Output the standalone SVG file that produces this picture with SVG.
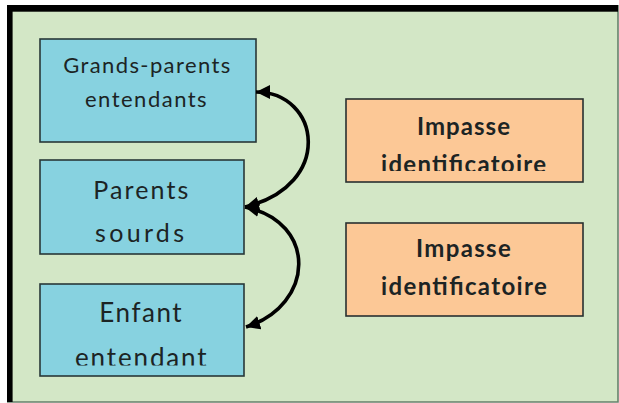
<svg xmlns="http://www.w3.org/2000/svg" width="619" height="403" viewBox="0 0 619 403">
  <style>
    .blue { fill: #87d2e0; stroke: #283838; stroke-width: 1.6; }
    .orange { fill: #fcc896; stroke: #283030; stroke-width: 1.6; }
    .t { font-family: Lato, "Liberation Sans", sans-serif; fill: #1c2424; text-anchor: middle; lengthAdjust: spacing; }
    .b { font-weight: bold; }
    .arrow { fill: none; stroke: #000; stroke-width: 3.6; }
  </style>
  <defs>
    <marker id="head" markerUnits="userSpaceOnUse" markerWidth="16" markerHeight="16" refX="14" refY="7" orient="auto-start-reverse">
      <path d="M0,0 L14,7 L0,14 z" fill="#000"/>
    </marker>
    <clipPath id="clipEnfant"><rect x="40" y="284" width="204" height="81.5"/></clipPath>
    <clipPath id="clipImp1"><rect x="346" y="99" width="237" height="72"/></clipPath>
  </defs>

  <g id="frame">
    <rect x="7" y="5" width="611" height="397" fill="#d3e7c6"/>
    <path d="M618,5 V402 H7" fill="none" stroke="#66806a" stroke-width="1.6"/>
    <rect x="7" y="5" width="611" height="6.7" fill="#000"/>
    <rect x="7" y="5" width="5.6" height="397" fill="#000"/>
  </g>

  <g id="grands-parents">
    <rect class="blue" x="40" y="39" width="216" height="103"/>
    <text class="t" x="146.7" y="73.3" font-size="22" textLength="167" lengthAdjust="spacing">Grands-parents</text>
    <text class="t" x="145.8" y="107.3" font-size="22" textLength="121.7" lengthAdjust="spacing">entendants</text>
  </g>

  <g id="parents">
    <rect class="blue" x="40" y="160" width="204" height="94"/>
    <text class="t" x="140.8" y="199.3" font-size="25" textLength="95" lengthAdjust="spacing">Parents</text>
    <text class="t" x="139.5" y="241.7" font-size="25" textLength="89" lengthAdjust="spacing">sourds</text>
  </g>

  <g id="enfant">
    <rect class="blue" x="40" y="284" width="204" height="92"/>
    <text class="t" x="140.5" y="321.7" font-size="26" textLength="82.4" lengthAdjust="spacing">Enfant</text>
    <text class="t" x="140.8" y="367" font-size="26" textLength="131.7" lengthAdjust="spacing" clip-path="url(#clipEnfant)">entendant</text>
  </g>

  <g id="impasse-1">
    <rect class="orange" x="346" y="99" width="237" height="83"/>
    <text class="t b" x="463.5" y="135" font-size="24" textLength="93" lengthAdjust="spacing">Impasse</text>
    <text class="t b" x="463.5" y="172.5" font-size="24" textLength="165" lengthAdjust="spacing" clip-path="url(#clipImp1)">identificatoire</text>
  </g>

  <g id="impasse-2">
    <rect class="orange" x="346" y="223" width="237" height="93"/>
    <text class="t b" x="463.4" y="257.3" font-size="24" textLength="94.7" lengthAdjust="spacing">Impasse</text>
    <text class="t b" x="463.9" y="295" font-size="24" textLength="165.7" lengthAdjust="spacing">identificatoire</text>
  </g>

  <g id="connectors">
    <path class="arrow" d="M256,92 C320,92 335,185 245,207" marker-start="url(#head)" marker-end="url(#head)"/>
    <path class="arrow" d="M245,207 C318,222 315,305 246,327" marker-start="url(#head)" marker-end="url(#head)"/>
  </g>
</svg>
